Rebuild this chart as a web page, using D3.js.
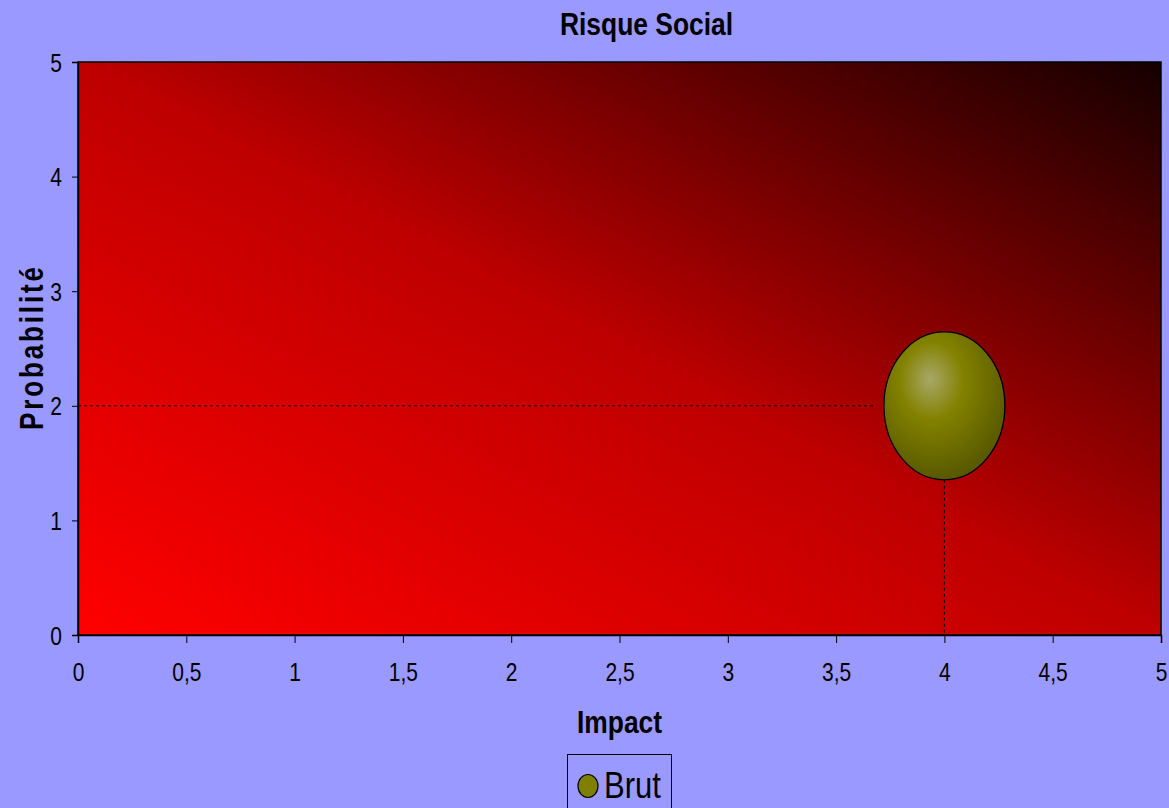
<!DOCTYPE html>
<html><head><meta charset="utf-8">
<script src="https://cdn.jsdelivr.net/npm/d3@7"></script>
<style>html,body{margin:0;padding:0;background:#9999FF;}svg{display:block;}</style>
</head><body>
<script>
const seriesName = ["Brut"];
const impactValues = [4];
const probaValues = [2];
const bubbleSizes = [1];
const xTicks = [0,0.5,1,1.5,2,2.5,3,3.5,4,4.5,5];
const yTicks = [0,1,2,3,4,5];
const xTickLabels = ["0","0,5","1","1,5","2","2,5","3","3,5","4","4,5","5"];
const yTickLabels = ["0","1","2","3","4","5"];

const W=1169,H=808;
const m={l:78,r:1161,t:62,b:635};
const svg=d3.select("body").append("svg").attr("width",W).attr("height",H);
svg.append("rect").attr("width",W).attr("height",H).attr("fill","#9999FF");
const defs=svg.append("defs");
const lg=defs.append("linearGradient").attr("id","bg").attr("x1",0).attr("y1",1).attr("x2",1).attr("y2",0);
lg.append("stop").attr("offset","0%").attr("stop-color","#FF0000");
lg.append("stop").attr("offset","50%").attr("stop-color","#BE0000");
lg.append("stop").attr("offset","100%").attr("stop-color","#150000");
const rg=defs.append("radialGradient").attr("id","bub").attr("cx","0.42").attr("cy","0.35").attr("r","0.75").attr("fx","0.38").attr("fy","0.32");
rg.append("stop").attr("offset","0%").attr("stop-color","#A8A86A");
rg.append("stop").attr("offset","35%").attr("stop-color","#828200");
rg.append("stop").attr("offset","100%").attr("stop-color","#4E4E00");

const x=d3.scaleLinear().domain([0,5]).range([m.l,m.r]);
const y=d3.scaleLinear().domain([0,5]).range([m.b,m.t]);
const font="Liberation Sans, Arial, sans-serif";

svg.append("rect").attr("x",m.l).attr("y",m.t).attr("width",m.r-m.l).attr("height",m.b-m.t)
  .attr("fill","url(#bg)").attr("stroke","#000").attr("stroke-width",1.5);

// axes
const xa=svg.append("g").attr("transform",`translate(0,${m.b})`)
  .call(d3.axisBottom(x).tickValues(xTicks).tickFormat((d,i)=>xTickLabels[i]).tickSize(8));
const ya=svg.append("g").attr("transform",`translate(${m.l},0)`)
  .call(d3.axisLeft(y).tickValues(yTicks).tickFormat((d,i)=>yTickLabels[i]).tickSize(6));
[xa,ya].forEach(a=>{a.select(".domain").attr("stroke","#000").attr("stroke-width",1.5);
  a.selectAll(".tick line").attr("stroke","#000");
  a.selectAll("text").attr("font-family",font).attr("font-size",21).attr("fill","#000")
   .attr("x",null).attr("y",null).attr("dy",null);});
xa.selectAll(".tick text").attr("text-anchor","middle").attr("transform","translate(0,46) scale(1,1.22)");
ya.selectAll(".tick text").attr("text-anchor","end").attr("transform","translate(-16,9) scale(1,1.22)");

// bubbles
const rx=60.5, ry=74;
impactValues.forEach((v,i)=>{
  const cx=x(v), cy=y(probaValues[i]);
  const s=Math.sqrt(bubbleSizes[i]);
  svg.append("line").attr("x1",m.l).attr("x2",cx-rx*s-10).attr("y1",cy).attr("y2",cy)
    .attr("stroke","#000").attr("stroke-width",1).attr("stroke-dasharray","3,3");
  svg.append("line").attr("x1",cx).attr("x2",cx).attr("y1",cy+ry*s).attr("y2",m.b)
    .attr("stroke","#000").attr("stroke-width",1).attr("stroke-dasharray","3,3");
  svg.append("ellipse").attr("cx",cx).attr("cy",cy).attr("rx",rx*s).attr("ry",ry*s)
    .attr("fill","url(#bub)").attr("stroke","#000").attr("stroke-width",1.3);
});

// titles
svg.append("text").attr("transform","translate(646.5,35) scale(1,1.16)").attr("text-anchor","middle")
  .attr("font-family",font).attr("font-weight","bold").attr("font-size",26.4).text("Risque Social");
svg.append("text").attr("transform","translate(619.5,733) scale(1,1.16)").attr("text-anchor","middle")
  .attr("font-family",font).attr("font-weight","bold").attr("font-size",26.4).text("Impact");
svg.append("text").attr("transform","translate(43,348.5) rotate(-90) scale(1,1.3)").attr("text-anchor","middle")
  .attr("font-family",font).attr("font-weight","bold").attr("font-size",26)
  .attr("textLength",163).attr("lengthAdjust","spacing").text("Probabilité");

// legend
const lgG=svg.append("g");
lgG.append("rect").attr("x",567.5).attr("y",754.5).attr("width",104).attr("height",60)
  .attr("fill","none").attr("stroke","#000").attr("stroke-width",1);
lgG.append("ellipse").attr("cx",588).attr("cy",786).attr("rx",10).attr("ry",11.5)
  .attr("fill","#808000").attr("stroke","#000").attr("stroke-width",1.2);
lgG.append("text").attr("transform","translate(604,797.5) scale(1,1.17)").attr("font-family",font).attr("font-size",31).text(seriesName[0]);
</script>
</body></html>
